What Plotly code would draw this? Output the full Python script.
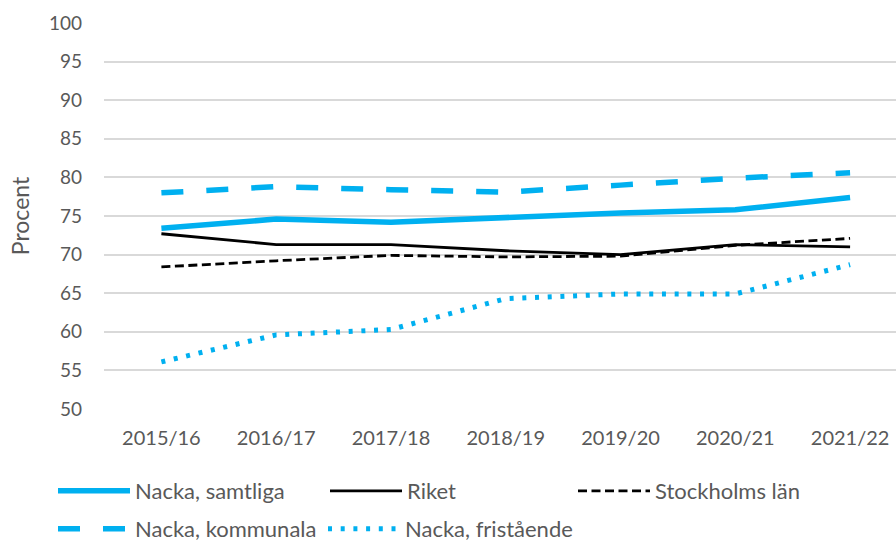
import plotly.graph_objects as go

years = ["2015/16", "2016/17", "2017/18", "2018/19", "2019/20", "2020/21", "2021/22"]
nacka_samtliga = [73.4, 74.6, 74.2, 74.8, 75.4, 75.8, 77.4]
riket = [72.7, 71.3, 71.3, 70.5, 70.0, 71.3, 71.0]
stockholms_lan = [68.4, 69.2, 69.9, 69.7, 69.8, 71.2, 72.1]
nacka_kommunala = [78.0, 78.8, 78.4, 78.1, 79.0, 79.9, 80.6]
nacka_fristaende = [56.1, 59.6, 60.3, 64.3, 64.9, 64.9, 68.7]
y_ticks = list(range(50, 101, 5))

BLUE = "#00B0F0"
FONT = "Lato, 'Open Sans', sans-serif"
GREY = "#595959"

L, R, T, B = 104, 0, 23, 134
W, H = 896, 543
PW = W - L - R
PH = H - T - B


def px_x(p):
    return (p - L) / PW


def px_y(q):
    return 1 - (q - T) / PH


fig = go.Figure()
fig.add_trace(go.Scatter(x=years, y=nacka_samtliga, name="Nacka, samtliga", mode="lines",
                         line=dict(color=BLUE, width=5.5), legend="legend"))
fig.add_trace(go.Scatter(x=years, y=riket, name="Riket", mode="lines",
                         line=dict(color="#000000", width=2.8), legend="legend2"))
fig.add_trace(go.Scatter(x=years, y=stockholms_lan, name="Stockholms län", mode="lines",
                         line=dict(color="#000000", width=2.8, dash="9px,4.5px"), legend="legend3"))
fig.add_trace(go.Scatter(x=years, y=nacka_kommunala, name="Nacka, kommunala", mode="lines",
                         line=dict(color=BLUE, width=5.5, dash="22px,23px"), legend="legend4"))
fig.add_trace(go.Scatter(x=years, y=nacka_fristaende, name="Nacka, fristående", mode="lines",
                         line=dict(color=BLUE, width=5, dash="4px,8.7px"), legend="legend5"))

leg_font = dict(size=22, color=GREY, family=FONT)


def leg(xp, yp):
    return dict(orientation="h", x=px_x(xp), xanchor="left", y=px_y(yp), yanchor="middle",
                itemwidth=72, font=leg_font, bgcolor="rgba(0,0,0,0)")


fig.update_layout(
    width=W, height=H,
    margin=dict(l=L, r=R, t=T, b=B, autoexpand=False),
    paper_bgcolor="white", plot_bgcolor="white",
    font=dict(family=FONT, color=GREY, size=20),
    showlegend=True,
    xaxis=dict(range=[-0.5, 6.4], showgrid=False, showline=False, ticks="", automargin=False,
               tickfont=dict(size=20, color=GREY), ticklabelstandoff=15, fixedrange=True),
    yaxis=dict(range=[50, 100], tickvals=y_ticks, showgrid=True, gridcolor="#d9d9d9",
               gridwidth=1.5, zeroline=False, showline=False, ticks="", automargin=False,
               tickfont=dict(size=19, color=GREY), ticklabelstandoff=21, fixedrange=True,
               title=dict(text="Procent", font=dict(size=23, color=GREY), standoff=12)),
    legend=leg(53, 491),
    legend2=leg(325, 491),
    legend3=leg(573, 491),
    legend4=leg(53, 529),
    legend5=leg(323, 529),
)

fig.write_html("out.html", config={"displayModeBar": False},
               post_script="document.body.style.margin='0';document.body.style.overflow='hidden';")
